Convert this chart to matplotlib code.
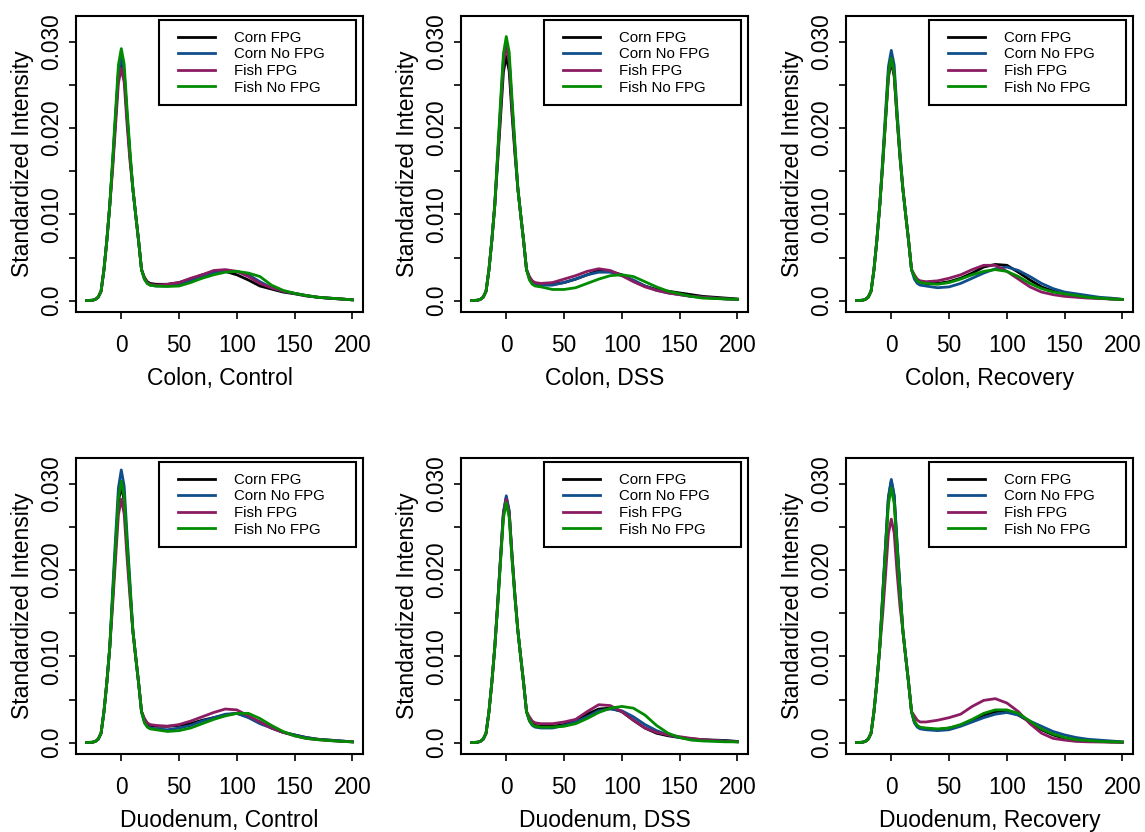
import matplotlib
matplotlib.use("Agg")
import matplotlib.pyplot as plt
from matplotlib.lines import Line2D
from matplotlib.legend_handler import HandlerLine2D
import numpy as np

plt.rcParams["font.family"] = ["Liberation Sans", "DejaVu Sans"]

# shared x grid (intensity) for every curve
intensity = [-30, -25, -22.5, -20, -17.5, -15, -12.5, -10, -7.5, -5, -2.5, 0, 2.5, 5, 7.5,
             10, 12.5, 15, 17.5, 20, 22.5, 25, 30, 40, 50, 60, 70, 80, 90, 100, 110, 120,
             130, 140, 150, 160, 170, 180, 190, 200]

# standardized intensity, in units of 1e-4
colon_control_corn_fpg = [0.2, 0.5, 1.5, 4, 11, 36, 70, 110, 158, 210, 262, 280, 263, 213, 168, 130, 99, 69, 36,
                          27, 22, 20, 19, 19, 21, 25, 30, 33, 34, 30, 24, 17, 13.5, 10, 8, 5.5, 4, 2.7, 2, 1]
colon_control_corn_nofpg = [0.2, 0.5, 1.5, 4, 11, 36, 70, 110, 159, 212, 264, 282, 265, 214, 169, 130, 99, 69, 36,
                            25, 20, 18, 17, 17, 19, 23, 28, 32, 34, 34, 30, 22, 15, 11, 8.5, 6, 4, 3, 2, 1]
colon_control_fish_fpg = [0.2, 0.5, 1.5, 4, 11, 36, 70, 110, 152, 202, 252, 269, 253, 204, 162, 130, 99, 69, 36,
                          26, 21, 19, 18, 19, 21, 26, 30, 35, 36, 34, 28, 20, 15, 11, 8.5, 6, 4, 3, 2, 1]
colon_control_fish_nofpg = [0.2, 0.5, 1.5, 4, 11, 36, 70, 110, 164, 219, 273, 292, 274, 222, 174, 130, 99, 69, 36,
                            25, 20, 18, 17, 16.5, 17, 21, 26, 30, 33, 34, 32, 28, 18, 12, 8.5, 6, 4, 3, 2, 1]

colon_dss_corn_fpg = [0.2, 0.5, 1.5, 4, 11, 36, 70, 110, 160, 212, 265, 283, 266, 215, 170, 130, 99, 69, 36,
                      27, 22, 20, 19, 19, 21, 25, 30, 35, 34, 30, 23, 17, 13, 11, 9, 7, 5, 4, 3, 2]
colon_dss_corn_nofpg = [0.2, 0.5, 1.5, 4, 11, 36, 70, 110, 167, 224, 279, 298, 280, 226, 177, 130, 99, 69, 36,
                        26, 21, 19, 18, 18, 21, 25, 30, 33, 33, 29, 24, 17, 12, 9, 7, 5, 4, 3, 2, 1.5]
colon_dss_fish_fpg = [0.2, 0.5, 1.5, 4, 11, 36, 70, 110, 165, 221, 276, 295, 277, 224, 175, 130, 99, 69, 36,
                      28, 23, 21, 20, 21, 25, 29, 34, 37, 35, 29, 22, 16, 12, 9, 7, 5, 4, 3, 2, 1.5]
colon_dss_fish_nofpg = [0.2, 0.5, 1.5, 4, 11, 36, 70, 110, 171, 230, 286, 306, 288, 233, 181, 130, 99, 69, 36,
                        24, 19, 17, 16, 13, 13, 15, 20, 25, 29, 30, 28, 22, 16, 11, 8, 5, 3, 2.5, 2, 1.5]

colon_recovery_corn_fpg = [0.2, 0.5, 1.5, 4, 11, 36, 70, 110, 156, 208, 259, 277, 260, 211, 166, 130, 99, 69, 36,
                           28, 23, 21, 20, 20, 22, 26, 32, 39, 42, 41, 33, 24, 16, 11, 8, 6, 4, 3, 2, 1.5]
colon_recovery_corn_nofpg = [0.2, 0.5, 1.5, 4, 11, 36, 70, 110, 163, 218, 271, 290, 273, 220, 173, 130, 99, 69, 36,
                             25, 20, 18, 17, 15, 16, 20, 26, 32, 37, 39, 35, 28, 20, 14, 10, 8, 6, 4, 3, 1.5]
colon_recovery_fish_fpg = [0.2, 0.5, 1.5, 4, 11, 36, 70, 110, 158, 210, 262, 280, 263, 213, 168, 130, 99, 69, 36,
                           30, 25, 23, 22, 23, 26, 30, 36, 41, 41, 34, 25, 16, 10, 7, 5, 4, 3, 2.5, 2, 1.5]
colon_recovery_fish_nofpg = [0.2, 0.5, 1.5, 4, 11, 36, 70, 110, 158, 211, 263, 281, 264, 214, 168, 130, 99, 69, 36,
                             28, 23, 21, 20, 19, 21, 25, 30, 34, 36, 34, 28, 20, 14, 10, 8, 6, 4, 3, 2, 1.5]

duodenum_control_corn_fpg = [0.2, 0.5, 1.5, 4, 11, 36, 70, 110, 167, 224, 279, 298, 280, 226, 177, 130, 99, 69, 36,
                             27, 22, 20, 19, 19, 20, 22, 26, 29, 32, 34, 30, 24, 17, 12, 9, 6, 4, 3, 2, 1]
duodenum_control_corn_nofpg = [0.2, 0.5, 1.5, 4, 11, 36, 70, 110, 176, 237, 295, 316, 297, 240, 186, 130, 99, 69, 36,
                               24, 19, 17, 16, 15, 17, 20, 25, 29, 33, 34, 29, 22, 17, 12, 9, 6, 4, 3, 2, 1]
duodenum_control_fish_fpg = [0.2, 0.5, 1.5, 4, 11, 36, 70, 110, 159, 212, 264, 282, 265, 214, 169, 130, 99, 69, 36,
                             28, 23, 21, 20, 19, 21, 25, 30, 35, 39, 38, 31, 24, 17, 12, 8, 5, 3.5, 2.5, 1.5, 1]
duodenum_control_fish_nofpg = [0.2, 0.5, 1.5, 4, 11, 36, 70, 110, 170, 227, 283, 303, 285, 230, 180, 130, 99, 69, 36,
                               23, 18, 16, 15, 13, 14, 17, 22, 27, 31, 34, 34, 28, 20, 13, 8, 5, 3.5, 2.5, 1.5, 1]

duodenum_dss_corn_fpg = [0.2, 0.5, 1.5, 4, 11, 36, 70, 110, 160, 213, 266, 284, 267, 216, 170, 130, 99, 69, 36,
                         27, 22, 20, 19, 19, 21, 25, 33, 39, 40, 36, 26, 17, 11, 8, 6, 4.5, 3.5, 3, 2.5, 1.5]
duodenum_dss_corn_nofpg = [0.2, 0.5, 1.5, 4, 11, 36, 70, 110, 161, 215, 267, 286, 269, 217, 171, 130, 99, 69, 36,
                           25, 20, 18, 17, 17, 20, 24, 30, 37, 39, 37, 30, 21, 14, 9, 6, 4, 3, 2.5, 2, 1]
duodenum_dss_fish_fpg = [0.2, 0.5, 1.5, 4, 11, 36, 70, 110, 159, 212, 264, 282, 265, 214, 169, 130, 99, 69, 36,
                         30, 25, 23, 22, 22, 24, 27, 36, 44, 43, 36, 26, 17, 12, 9, 7, 5, 3.5, 2.5, 1.5, 1]
duodenum_dss_fish_nofpg = [0.2, 0.5, 1.5, 4, 11, 36, 70, 110, 157, 209, 260, 278, 261, 211, 167, 130, 99, 69, 36,
                           26, 21, 19, 18, 18, 19, 22, 28, 35, 40, 42, 40, 32, 20, 11, 6, 3, 2, 1.5, 1, 1]

duodenum_recovery_corn_fpg = [0.2, 0.5, 1.5, 4, 11, 36, 70, 110, 170, 227, 283, 303, 285, 230, 180, 130, 99, 69, 36,
                              24, 19, 17, 16, 15, 17, 20, 26, 32, 36, 37, 32, 24, 15, 9, 5, 3, 2, 1.5, 1, 0.5]
duodenum_recovery_corn_nofpg = [0.2, 0.5, 1.5, 4, 11, 36, 70, 110, 170, 229, 285, 305, 287, 232, 180, 130, 99, 69, 36,
                                23, 18, 16, 15, 14, 15, 19, 24, 29, 33, 35, 32, 25, 19, 13, 9, 6, 4, 3, 2, 1]
duodenum_recovery_fish_fpg = [0.2, 0.5, 1.5, 4, 11, 36, 70, 110, 148, 194, 242, 259, 243, 197, 158, 130, 99, 69, 36,
                              31, 26, 24, 24, 26, 29, 33, 42, 49, 51, 46, 36, 22, 11, 5, 3, 1.5, 1, 0.8, 0.5, 0.5]
duodenum_recovery_fish_nofpg = [0.2, 0.5, 1.5, 4, 11, 36, 70, 110, 165, 221, 276, 295, 277, 224, 175, 130, 99, 69, 36,
                                25, 20, 18, 17, 16, 17, 21, 27, 34, 38, 38, 34, 25, 16, 10, 6, 3.5, 2.5, 1.5, 1, 0.8]

group_labels = ["Corn FPG", "Corn No FPG", "Fish FPG", "Fish No FPG"]
group_colors = ["#000000", "#104E8B", "#8B1C62", "#008B00"]

panel_titles = ["Colon, Control", "Colon, DSS", "Colon, Recovery",
                "Duodenum, Control", "Duodenum, DSS", "Duodenum, Recovery"]
panel_series = [
    [colon_control_corn_fpg, colon_control_corn_nofpg, colon_control_fish_fpg, colon_control_fish_nofpg],
    [colon_dss_corn_fpg, colon_dss_corn_nofpg, colon_dss_fish_fpg, colon_dss_fish_nofpg],
    [colon_recovery_corn_fpg, colon_recovery_corn_nofpg, colon_recovery_fish_fpg, colon_recovery_fish_nofpg],
    [duodenum_control_corn_fpg, duodenum_control_corn_nofpg, duodenum_control_fish_fpg, duodenum_control_fish_nofpg],
    [duodenum_dss_corn_fpg, duodenum_dss_corn_nofpg, duodenum_dss_fish_fpg, duodenum_dss_fish_nofpg],
    [duodenum_recovery_corn_fpg, duodenum_recovery_corn_nofpg, duodenum_recovery_fish_fpg, duodenum_recovery_fish_nofpg],
]

W, H = 1145, 832
fig = plt.figure(figsize=(W / 100, H / 100), dpi=100)

col_left = [76, 461, 846]
row_top = [16, 458]
box_w, box_h = 287, 296

for i, (title, series) in enumerate(zip(panel_titles, panel_series)):
    r, c = divmod(i, 3)
    ax = fig.add_axes([col_left[c] / W, 1 - (row_top[r] + box_h) / H, box_w / W, box_h / H])
    for y, color, name in zip(series, group_colors, group_labels):
        ax.plot(intensity, np.array(y) * 1e-4, color=color, lw=2.0, label=name,
                solid_joinstyle="round")

    ax.set_xlim(-39.2, 209.2)
    ax.set_ylim(-0.00131, 0.03298)
    ax.set_xticks([0, 50, 100, 150, 200])
    ax.set_yticks([0, 0.005, 0.010, 0.015, 0.020, 0.025, 0.030])
    ax.set_yticklabels(["0.0", "", "0.010", "", "0.020", "", "0.030"], rotation=90, va="center")
    ax.tick_params(length=5, width=1.2, labelsize=16.3, color="black")
    ax.tick_params(axis="x", pad=11)
    ax.tick_params(axis="y", pad=4)
    ax.set_xlabel(title, fontsize=16.5, labelpad=7)
    ax.set_ylabel("Standardized Intensity", fontsize=16.5, labelpad=5)
    for s in ax.spines.values():
        s.set_linewidth(1.5)

    leg = ax.legend(loc="upper left", bbox_to_anchor=(0.289, 0.693, 0.687, 0.293), mode="expand",
                    borderaxespad=0, fontsize=10.8, handlelength=3.03, handletextpad=1.27,
                    borderpad=0.72, labelspacing=0.17, fancybox=False, framealpha=1,
                    handler_map={Line2D: HandlerLine2D(xpad=0.55)})
    leg.get_frame().set_edgecolor("black")
    leg.get_frame().set_linewidth(1.5)

fig.savefig("out.png", dpi=100)
